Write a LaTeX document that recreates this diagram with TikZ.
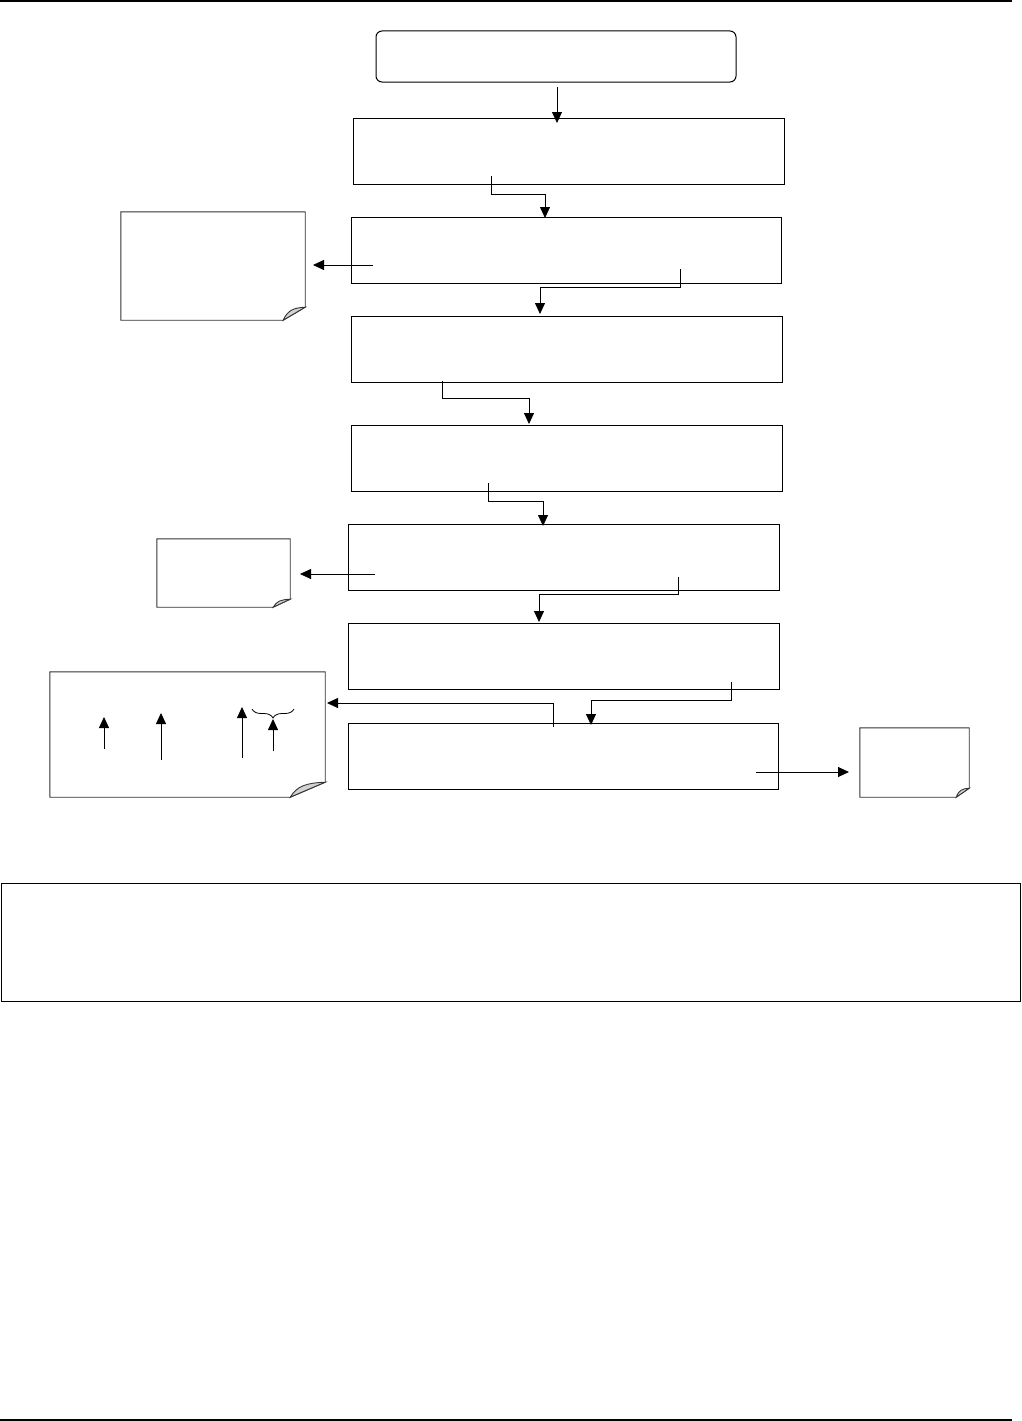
\documentclass[tikz,border=0pt]{standalone}
\usetikzlibrary{arrows.meta,decorations.pathreplacing}
\newcommand{\dogear}[3]{% note name, fold width, fold height
  \draw[notecol] (#1.north west) -- (#1.north east) -- ([yshift=#3pt]#1.south east)
    -- ([xshift=-#2pt]#1.south east) -- (#1.south west) -- cycle;
  \filldraw[notecol, fill=gray!35] ([xshift=-#2pt]#1.south east)
    .. controls ([xshift=-0.8*#2pt, yshift=0.75*#3pt]#1.south east)
    and ([xshift=-0.55*#2pt, yshift=0.95*#3pt]#1.south east) .. ([yshift=#3pt]#1.south east) -- cycle;
}
\begin{document}
\begin{tikzpicture}[x=1pt, y=-1pt,
  box/.style={draw, line width=1pt, inner sep=0pt, minimum width=431pt, minimum height=66pt},
  note/.style={inner sep=0pt},
  notecol/.style={draw=black!80, line width=0.9pt},
  arr/.style={line width=0.8pt, -{Triangle[length=11pt,width=10pt]}}]
\useasboundingbox (0,0) rectangle (1021,1421);
\draw [line width=1.3pt] (0,1) -- (1012,1);
\draw [line width=1.3pt] (0,1420) -- (1012,1420);
% flow boxes
\node[box, rounded corners=6pt, minimum width=360pt, minimum height=51pt] (start) at (556,56.5) {};
\node[box] (b1) at (568.5,151) {};
\node[box, minimum width=430pt] (b2) at (566,250) {};
\node[box] (b3) at (566.5,349) {};
\node[box] (b4) at (566.5,458) {};
\node[box] (b5) at (563.5,557) {};
\node[box] (b6) at (563.5,656) {};
\node[box, minimum width=430pt] (b7) at (563,756) {};
\node[box, minimum width=1019pt, minimum height=118pt] (info) at (510.5,942) {};
% notes
\node[note, minimum width=184pt, minimum height=108pt] (n1) at (213,266) {};
\node[note, minimum width=133pt, minimum height=68pt] (n2) at (223.5,573) {};
\node[note, minimum width=275pt, minimum height=125pt] (n3) at (187.5,734.5) {};
\node[note, minimum width=109pt, minimum height=69pt] (n4) at (914.5,762.5) {};
\dogear{n1}{22}{13}
\dogear{n2}{17}{8}
\dogear{n3}{35}{15}
\dogear{n4}{13}{9}
% connector ends
\coordinate (s0) at (557,87);  \coordinate (e0) at (557,123);
\coordinate (s1) at (491,176); \coordinate (e1) at (545,218);
\coordinate (s2) at (680,269); \coordinate (e2) at (540,314);
\coordinate (s3) at (442,381); \coordinate (e3) at (529,424);
\coordinate (s4) at (488,483); \coordinate (e4) at (543,526);
\coordinate (s5) at (678,577); \coordinate (e5) at (539,622);
\coordinate (s6) at (731,682); \coordinate (e6) at (591,725);
\coordinate (s7) at (553,727); \coordinate (e7) at (327,703);
\coordinate (s8) at (756,772); \coordinate (e8) at (849,772);
\coordinate (s9) at (373,265); \coordinate (e9) at (313,265);
\coordinate (s10) at (375,574); \coordinate (e10) at (300,574);
\draw [arr] (s0) -- (e0);
\draw [arr] (s1) -- ++(0,18) -| (e1);
\draw [arr] (s2) -- ++(0,18) -| (e2);
\draw [arr] (s3) -- ++(0,17) -| (e3);
\draw [arr] (s4) -- ++(0,18) -| (e4);
\draw [arr] (s5) -- ++(0,17) -| (e5);
\draw [arr] (s6) -- ++(0,18) -| (e6);
\draw [arr] (s7) |- (e7);
\draw [arr] (s8) -- (e8);
\draw [arr] (s9) -- (e9);
\draw [arr] (s10) -- (e10);
% pointers inside the big note
\draw [arr] (104,749) -- (104,717);
\draw [arr] (161,760) -- (161,713);
\draw [arr] (242,758) -- (242,707);
\draw [arr] (273,751) -- (273,719);
\draw [line width=0.8pt, decorate, decoration={brace, amplitude=9pt, mirror}] (252,709) -- (294,709);
\end{tikzpicture}
\end{document}
